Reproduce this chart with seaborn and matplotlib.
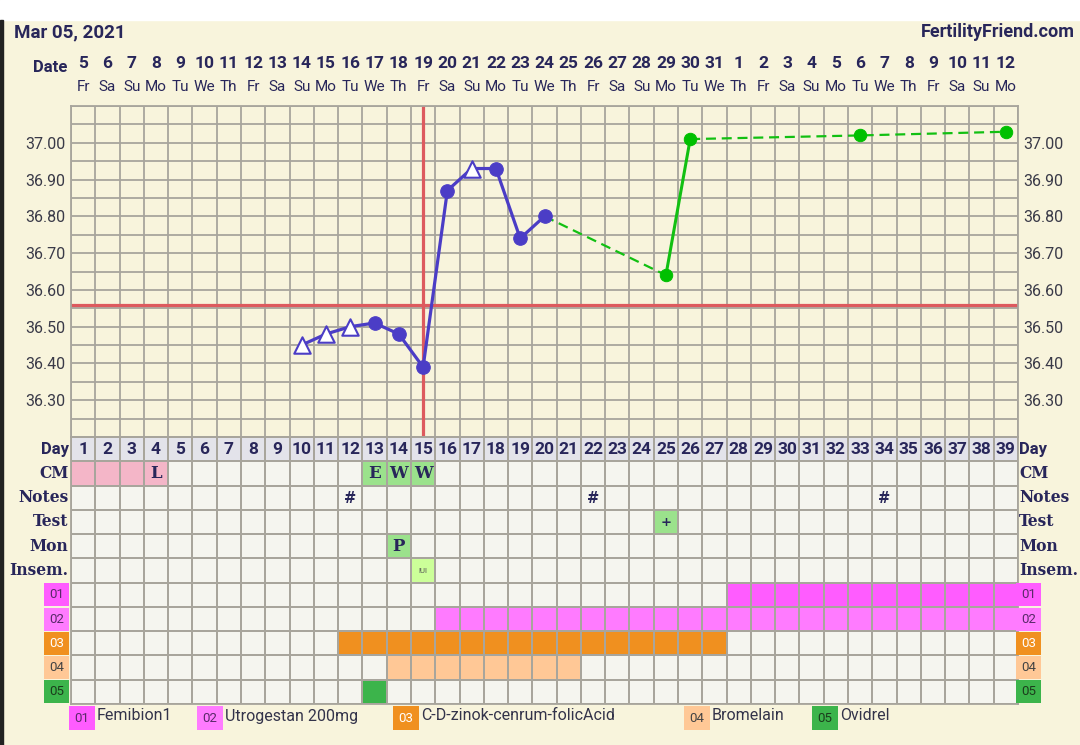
import numpy as np
import pandas as pd
import matplotlib
matplotlib.use("Agg")
import matplotlib.pyplot as plt
import matplotlib.transforms as mtransforms
from matplotlib.colors import ListedColormap
from matplotlib.patches import Rectangle
import seaborn as sns

# --- data ---
chart_date = "Mar 05, 2021"
start_date = "2021-03-05"
n_days = 39

purple_days = [10, 11, 12, 13, 14, 15, 16, 17, 18, 19, 20]
purple_temps = [36.45, 36.48, 36.50, 36.51, 36.48, 36.39, 36.87, 36.93, 36.93, 36.74, 36.80]
purple_open = [True, True, True, False, False, False, False, True, False, False, False]

green_days = [25, 26, 33, 39]
green_temps = [36.64, 37.01, 37.02, 37.03]

coverline = 36.56
ovulation_day = 15

row_names = ["Day", "CM", "Notes", "Test", "Mon", "Insem.", "01", "02", "03", "04", "05"]

cm_marks = {1: "", 2: "", 3: "", 4: "L", 13: "E", 14: "W", 15: "W"}
notes_days = [12, 22, 34]
test_marks = {25: "+"}
mon_marks = {14: "P"}
insem_marks = {15: "IUI"}
med_ranges = {"01": (28, 39), "02": (16, 39), "03": (12, 27), "04": (14, 21), "05": (13, 13)}
med_names = {"01": "Femibion1", "02": "Utrogestan 200mg", "03": "C-D-zinok-cenrum-folicAcid",
             "04": "Bromelain", "05": "Ovidrel"}

# --- styling ---
CREAM = "#f8f4dc"
CELL = "#f5f5ef"
GRID = "#a8a59c"
NAVY = "#28265a"
PURPLE = "#4b3dc6"
GREEN = "#12c012"
RED = "#dd5a5e"
cell_colors = [CELL, "#e3e3ea", "#f4b6c8", "#9be28c", "#ccff99",
               "#ff5cff", "#ff7bff", "#f0901f", "#ffc896", "#3cb44b"]
med_code = {"01": 5, "02": 6, "03": 7, "04": 8, "05": 9}
med_text = {"01": "#5a2a6a", "02": "#5a2a6a", "03": "white", "04": "#444444", "05": "#1c3c1c"}

sns.set_theme(style="white")
plt.rcParams["font.family"] = ["Roboto", "DejaVu Sans"]
SLAB = ["DejaVu Serif"]

W, H = 1080, 745
fig = plt.figure(figsize=(W / 100, H / 100), dpi=100, facecolor=CREAM)
fig.patches.append(Rectangle((0, 1 - 20 / H), 1, 20 / H, transform=fig.transFigure,
                             color="white", zorder=-1))
fig.patches.append(Rectangle((0, 0), 3 / W, 1 - 20 / H, transform=fig.transFigure,
                             color="#222222"))

left, right = 71, 1018
ax = fig.add_axes([left / W, (H - 437) / H, (right - left) / W, (437 - 106) / H])
ax2 = fig.add_axes([left / W, (H - 704) / H, (right - left) / W, (704 - 437) / H])

# --- temperature chart ---
ax.set_facecolor(CREAM)
ax.set_xlim(0.5, n_days + 0.5)
ax.set_ylim(36.20, 37.10)
ax.set_xticks(np.arange(0.5, n_days + 1, 1), minor=True)
ax.set_xticks([])
ax.set_yticks(np.arange(36.30, 37.01, 0.10))
ax.set_yticks(np.arange(36.20, 37.11, 0.05), minor=True)
ax.yaxis.set_major_formatter(matplotlib.ticker.FormatStrFormatter("%.2f"))
ax.grid(True, which="both", color=GRID, lw=1.3)
ax.tick_params(axis="both", which="both", length=0)
ax.tick_params(axis="y", labelleft=True, labelright=True, labelsize=11.5,
               labelcolor="#3a3a48", pad=4)
for s in ax.spines.values():
    s.set_color(GRID)
    s.set_linewidth(1.3)
ax.set_axisbelow(True)

ax.axhline(coverline, color=RED, lw=2.3, zorder=2)
ax.axvline(ovulation_day, color=RED, lw=2.3, zorder=2)

pdf = pd.DataFrame({"day": purple_days, "temp": purple_temps, "open": purple_open})
sns.lineplot(data=pdf, x="day", y="temp", color=PURPLE, lw=2.3, sort=False,
             estimator=None, ax=ax, zorder=3)
sns.scatterplot(data=pdf[~pdf["open"]], x="day", y="temp", color=PURPLE, s=95,
                edgecolor=PURPLE, ax=ax, zorder=4)
sns.scatterplot(data=pdf[pdf["open"]], x="day", y="temp", marker="^", s=140,
                color="white", edgecolor=PURPLE, linewidth=1.5, ax=ax, zorder=4)

gx = [purple_days[-1]] + green_days
gy = [purple_temps[-1]] + green_temps
segments = [(0, 2, "--"), (1, 3, "-"), (2, 5, "--")]
for a, b, ls in segments:
    seg = pd.DataFrame({"day": gx[a:b], "temp": gy[a:b]})
    sns.lineplot(data=seg, x="day", y="temp", color=GREEN, sort=False, estimator=None,
                 lw=2.2 if ls == "-" else 1.6, linestyle=ls, ax=ax, zorder=3)
for line in ax.get_lines():
    if line.get_linestyle() == "--":
        line.set_dashes((4.5, 2.6))
gdf = pd.DataFrame({"day": green_days, "temp": green_temps})
sns.scatterplot(data=gdf, x="day", y="temp", color="#00c000", s=80, edgecolor="#00c000",
                ax=ax, zorder=4)
ax.set_xlabel("")
ax.set_ylabel("")

# date header
dates = pd.date_range(start_date, periods=n_days)
tr = mtransforms.blended_transform_factory(ax.transData, fig.transFigure)
for i, d in enumerate(dates, start=1):
    ax.text(i, 1 - 63 / H, str(d.day), transform=tr, ha="center", va="center",
            fontsize=12.5, fontweight="bold", color=NAVY)
    ax.text(i, 1 - 87 / H, d.strftime("%a")[:2], transform=tr, ha="center", va="center",
            fontsize=11, color=NAVY)
fig.text(67 / W, 1 - 68 / H, "Date", ha="right", va="center", fontsize=12,
         fontweight="bold", color=NAVY)
fig.text(14 / W, 1 - 32 / H, chart_date, ha="left", va="center", fontsize=13.5,
         fontweight="bold", color=NAVY)
fig.text(1075 / W, 1 - 32 / H, "FertilityFriend.com", ha="right", va="center",
         fontsize=13, fontweight="bold", color=NAVY)

# --- lower grid ---
codes = np.zeros((len(row_names), n_days))
labels = [["" for _ in range(n_days)] for _ in row_names]
codes[0, :] = 1
for d in range(1, n_days + 1):
    labels[0][d - 1] = str(d)
for d, t in cm_marks.items():
    codes[1, d - 1] = 2 if d <= 4 else 3
    labels[1][d - 1] = t
for d in notes_days:
    labels[2][d - 1] = "#"
for d, t in test_marks.items():
    codes[3, d - 1] = 3
    labels[3][d - 1] = t
for d, t in mon_marks.items():
    codes[4, d - 1] = 3
    labels[4][d - 1] = t
for d, t in insem_marks.items():
    codes[5, d - 1] = 4
    labels[5][d - 1] = t
for k, (a, b) in med_ranges.items():
    r = row_names.index(k)
    codes[r, a - 1:b] = med_code[k]

sns.heatmap(codes, cmap=ListedColormap(cell_colors), vmin=-0.5, vmax=9.5, cbar=False,
            linewidths=1.3, linecolor=GRID, xticklabels=False, yticklabels=False, ax=ax2)
for s in ax2.spines.values():
    s.set_visible(True)
    s.set_color(GRID)
    s.set_linewidth(1.3)

for r, row in enumerate(labels):
    for c, t in enumerate(row):
        if not t:
            continue
        if r == 0:
            kw = dict(fontsize=12.5, fontweight="bold", family=["Roboto"])
        elif t == "IUI":
            kw = dict(fontsize=5.5, family=["Roboto"], color="#555555")
        elif t == "#":
            kw = dict(fontsize=10.5, fontweight="bold", family=["DejaVu Sans"])
        elif t == "+":
            kw = dict(fontsize=9.5, fontweight="bold", family=["DejaVu Sans"])
        else:
            kw = dict(fontsize=12, fontweight="bold", family=SLAB)
        kw.setdefault("color", NAVY)
        ax2.text(c + 0.5, r + 0.52, t, ha="center", va="center", **kw)

for r, name in enumerate(row_names):
    if name in med_code:
        for x in (-0.6, n_days + 0.45):
            ax2.text(x, r + 0.5, name, ha="center", va="center", fontsize=9.5,
                     color=med_text[name], clip_on=False,
                     bbox=dict(boxstyle="square,pad=0.38", fc=cell_colors[med_code[name]],
                               ec="none"))
    else:
        kw = dict(fontsize=12, fontweight="bold", family=["Roboto"]) if name == "Day" \
            else dict(fontsize=11.2, fontweight="bold", family=SLAB)
        ax2.text(-0.1, r + 0.5, name, ha="right", va="center", color=NAVY,
                 clip_on=False, **kw)
        ax2.text(n_days + 0.05, r + 0.5, name, ha="left", va="center", color=NAVY,
                 clip_on=False, **kw)

# legend
legend_x = {"01": 71, "02": 199, "03": 395, "04": 686, "05": 814}
for k, x in legend_x.items():
    fig.text((x + 11) / W, 1 - 718 / H, k, ha="center", va="center", fontsize=9.5,
             color=med_text[k],
             bbox=dict(boxstyle="square,pad=0.45", fc=cell_colors[med_code[k]], ec="none"))
    fig.text((x + 26) / W, 1 - 716 / H, med_names[k], ha="left", va="center",
             fontsize=11.5, color="#33334a")

fig.savefig("out.png", dpi=100, facecolor=CREAM)
